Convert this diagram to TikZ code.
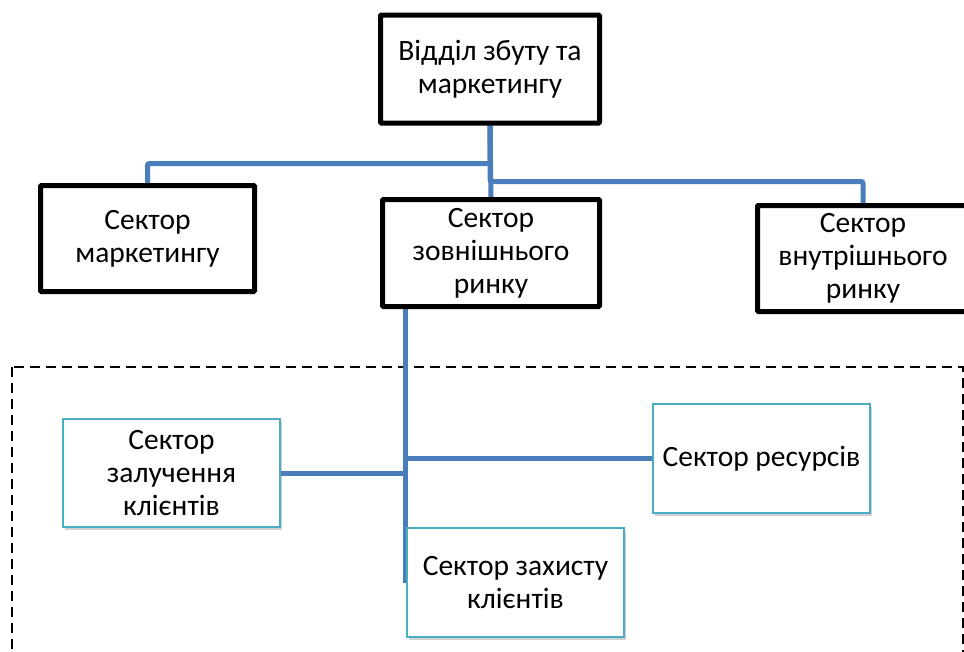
\documentclass[tikz,border=0pt]{standalone}
\usepackage{fontspec}
\setmainfont{Carlito}
\usepackage{tikz}
\usetikzlibrary{shadows,backgrounds}

\definecolor{linkblue}{HTML}{4A7EBB}
\definecolor{boxblue}{HTML}{4BACC6}

\tikzset{
  unit/.style={draw, rectangle, line width=5pt, rounded corners=1pt, fill=white,
    align=center, inner sep=0pt, font=\fontsize{29.5pt}{33pt}\selectfont},
  sector/.style={draw=boxblue, rectangle, line width=1.5pt, fill=white,
    align=center, inner sep=0pt, font=\fontsize{29.5pt}{33pt}\selectfont,
    drop shadow={shadow xshift=1.5pt, shadow yshift=-3pt, opacity=0.3, fill=black!60}},
  link/.style={draw=linkblue, line width=5pt, rounded corners=2pt},
}

\begin{document}
\begin{tikzpicture}[x=1pt, y=-1pt]
\useasboundingbox (0,0) rectangle (964,651);

\node[unit, minimum width=219pt, minimum height=108pt] (dept) at (490, 69) {Відділ збуту та\\маркетингу};
\node[unit, minimum width=214pt, minimum height=106pt] (mark) at (147.5, 238.5) {Сектор\\маркетингу};
\node[unit, minimum width=217pt, minimum height=107pt] (outer) at (491, 253) {Сектор\\зовнішнього\\ринку};
\node[unit, minimum width=211pt, minimum height=106pt] (inner) at (863, 258.5) {Сектор\\внутрішнього\\ринку};

\node[sector, minimum width=217pt, minimum height=108pt] (attract) at (171.5, 473) {Сектор\\залучення\\клієнтів};
\node[sector, minimum width=217pt, minimum height=109pt] (res) at (761.5, 458.5) {Сектор ресурсів};
\node[sector, minimum width=217pt, minimum height=109pt] (protect) at (515.5, 582.5) {Сектор захисту\\клієнтів};

\coordinate (trunk) at ([xshift=25pt]outer.south west);
\coordinate (trunkend) at (trunk |- protect.center);

\begin{scope}[on background layer]
\draw[dashed, line width=2pt, dash pattern=on 10pt off 6pt] (12,367) rectangle (963,670);
\draw[link] (dept.south) -- ++(0,38) -| (mark.north);
\draw[link] (dept.south) -- ++(0,56) -| (inner.north);
\draw[link] (dept.south) -- (outer.north);
\draw[link] (trunk) -- (trunkend);
\draw[link] (attract.east) -- (attract.east -| trunk);
\draw[link] (res.west) -- (res.west -| trunk);
\end{scope}
\end{tikzpicture}
\end{document}
